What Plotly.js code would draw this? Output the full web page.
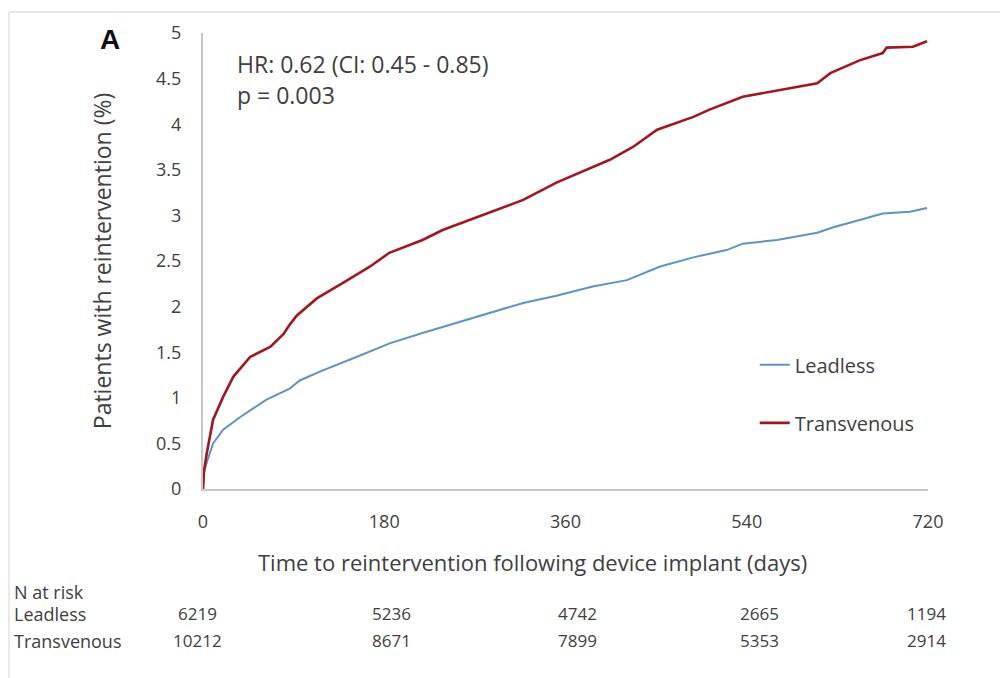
<!DOCTYPE html>
<html>
<head>
<meta charset="utf-8">
<script src="https://cdn.plot.ly/plotly-3.0.1.min.js"></script>
<style>html,body{margin:0;padding:0;background:#fff;}#chart{width:1000px;height:678px;}</style>
</head>
<body>
<div id="chart"></div>
<script>
// Transvenous (red) curve
const daysTransvenous = [0, 1, 3.7, 10, 20, 30, 47, 67, 80, 86, 93, 113, 139, 166, 185, 218, 238, 272, 318, 351, 387, 404, 427, 451, 487, 503, 536, 570, 610, 623, 652, 675, 679, 705, 719];
const pctTransvenous  = [0, 0.2, 0.39, 0.76, 1.01, 1.23, 1.45, 1.56, 1.70, 1.80, 1.90, 2.09, 2.26, 2.44, 2.59, 2.73, 2.84, 2.98, 3.17, 3.36, 3.53, 3.61, 3.75, 3.94, 4.08, 4.16, 4.30, 4.37, 4.45, 4.56, 4.70, 4.78, 4.84, 4.85, 4.91];
// Leadless (blue) curve
const daysLeadless = [0, 1, 3.7, 10, 20, 37, 63, 86, 96, 119, 153, 186, 218, 252, 285, 318, 351, 387, 421, 454, 487, 520, 536, 570, 610, 626, 652, 675, 702, 719];
const pctLeadless  = [0, 0.18, 0.29, 0.50, 0.65, 0.79, 0.98, 1.10, 1.19, 1.30, 1.45, 1.60, 1.71, 1.82, 1.93, 2.04, 2.12, 2.22, 2.29, 2.44, 2.54, 2.62, 2.69, 2.73, 2.81, 2.87, 2.95, 3.02, 3.04, 3.08];

// Number at risk table
const riskDays = [0, 180, 360, 540, 720];
const riskLeadless = [6219, 5236, 4742, 2665, 1194];
const riskTransvenous = [10212, 8671, 7899, 5353, 2914];
const xTickVals = [0, 180, 360, 540, 720];
const yTickVals = [0, 0.5, 1, 1.5, 2, 2.5, 3, 3.5, 4, 4.5, 5];
const yTickText = ['0', '0.5', '1', '1.5', '2', '2.5', '3', '3.5', '4', '4.5', '5'];

const FONT = '"Open Sans", Lato, sans-serif';
const TXT = '#404040';

// layout-only horizontal nudges for the table columns (pixels)
const colShift = [-6, 7, 12, 13, -2];

const traces = [
  {x: daysLeadless, y: pctLeadless, type: 'scatter', mode: 'lines', name: 'Leadless',
   legendgroup: 'a', line: {color: '#5E93C2', width: 2}},
  {x: daysTransvenous, y: pctTransvenous, type: 'scatter', mode: 'lines', name: 'Transvenous',
   legendgroup: 'b', line: {color: '#A3161F', width: 2.6}}
];

const annotations = [
  {text: '<b>A</b>', xref: 'paper', yref: 'paper', x: -0.128, y: 0.985, showarrow: false,
   xanchor: 'center', yanchor: 'middle', font: {family: 'Liberation Sans, Arial, sans-serif', size: 28, color: '#111'}},
  {text: 'HR: 0.62 (CI: 0.45 - 0.85)', xref: 'paper', yref: 'paper', x: 0.044, y: 0.932, showarrow: false,
   xanchor: 'left', yanchor: 'middle', font: {family: FONT, size: 23, color: TXT}},
  {text: 'p = 0.003', xref: 'paper', yref: 'paper', x: 0.044, y: 0.864, showarrow: false,
   xanchor: 'left', yanchor: 'middle', font: {family: FONT, size: 23, color: TXT}},
  {text: 'Time to reintervention following device implant (days)', xref: 'paper', yref: 'paper', x: 0.454, y: -0.160,
   showarrow: false, xanchor: 'center', yanchor: 'middle', font: {family: FONT, size: 22, color: TXT}},
  {text: 'N at risk', xref: 'paper', yref: 'paper', x: -0.263, y: -0.226, showarrow: false,
   xanchor: 'left', yanchor: 'middle', font: {family: FONT, size: 18, color: TXT}},
  {text: 'Leadless', xref: 'paper', yref: 'paper', x: -0.263, y: -0.274, showarrow: false,
   xanchor: 'left', yanchor: 'middle', font: {family: FONT, size: 18, color: TXT}},
  {text: 'Transvenous', xref: 'paper', yref: 'paper', x: -0.263, y: -0.333, showarrow: false,
   xanchor: 'left', yanchor: 'middle', font: {family: FONT, size: 18, color: TXT}}
];
riskDays.forEach((d, i) => {
  annotations.push({text: String(riskLeadless[i]), xref: 'x', yref: 'paper', x: d, y: -0.274, xshift: colShift[i],
    showarrow: false, xanchor: 'center', yanchor: 'middle', font: {family: FONT, size: 17, color: TXT}});
  annotations.push({text: String(riskTransvenous[i]), xref: 'x', yref: 'paper', x: d, y: -0.333, xshift: colShift[i],
    showarrow: false, xanchor: 'center', yanchor: 'middle', font: {family: FONT, size: 17, color: TXT}});
});

const layout = {
  width: 1000, height: 678,
  margin: {l: 203, r: 72, t: 33, b: 189},
  paper_bgcolor: '#fff', plot_bgcolor: '#fff',
  font: {family: FONT, color: TXT},
  showlegend: true,
  legend: {x: 0.761, y: 0.315, xanchor: 'left', yanchor: 'top', bgcolor: 'rgba(0,0,0,0)',
           font: {family: FONT, size: 20, color: TXT}, tracegroupgap: 29, traceorder: 'grouped'},
  xaxis: {range: [0, 720], tickvals: xTickVals, ticktext: xTickVals.map(String), showgrid: false, zeroline: false,
          showline: true, linecolor: '#c8c8c8', linewidth: 2, ticks: '', ticklabelstandoff: 15,
          tickfont: {family: FONT, size: 18, color: TXT}, fixedrange: true},
  yaxis: {range: [0, 5], tickvals: yTickVals, ticktext: yTickText, showgrid: false, zeroline: false,
          showline: true, linecolor: '#c8c8c8', linewidth: 2, ticks: '', ticklabelstandoff: 16,
          tickfont: {family: FONT, size: 18, color: TXT}, fixedrange: true,
          title: {text: 'Patients with reintervention (%)', font: {family: FONT, size: 23, color: TXT}, standoff: 38}},
  annotations: annotations,
  shapes: [
    {type: 'line', xref: 'paper', yref: 'paper', x0: (9 - 203) / 725, x1: (1000 - 203) / 725, y0: (489 - 12) / 456, y1: (489 - 12) / 456,
     line: {color: '#e2e2e2', width: 1.5}},
    {type: 'line', xref: 'paper', yref: 'paper', x0: (9 - 203) / 725, x1: (9 - 203) / 725, y0: (489 - 12) / 456, y1: (489 - 678) / 456,
     line: {color: '#e2e2e2', width: 1.5}}
  ]
};

Plotly.newPlot('chart', traces, layout, {displayModeBar: false, staticPlot: true});
</script>
</body>
</html>
